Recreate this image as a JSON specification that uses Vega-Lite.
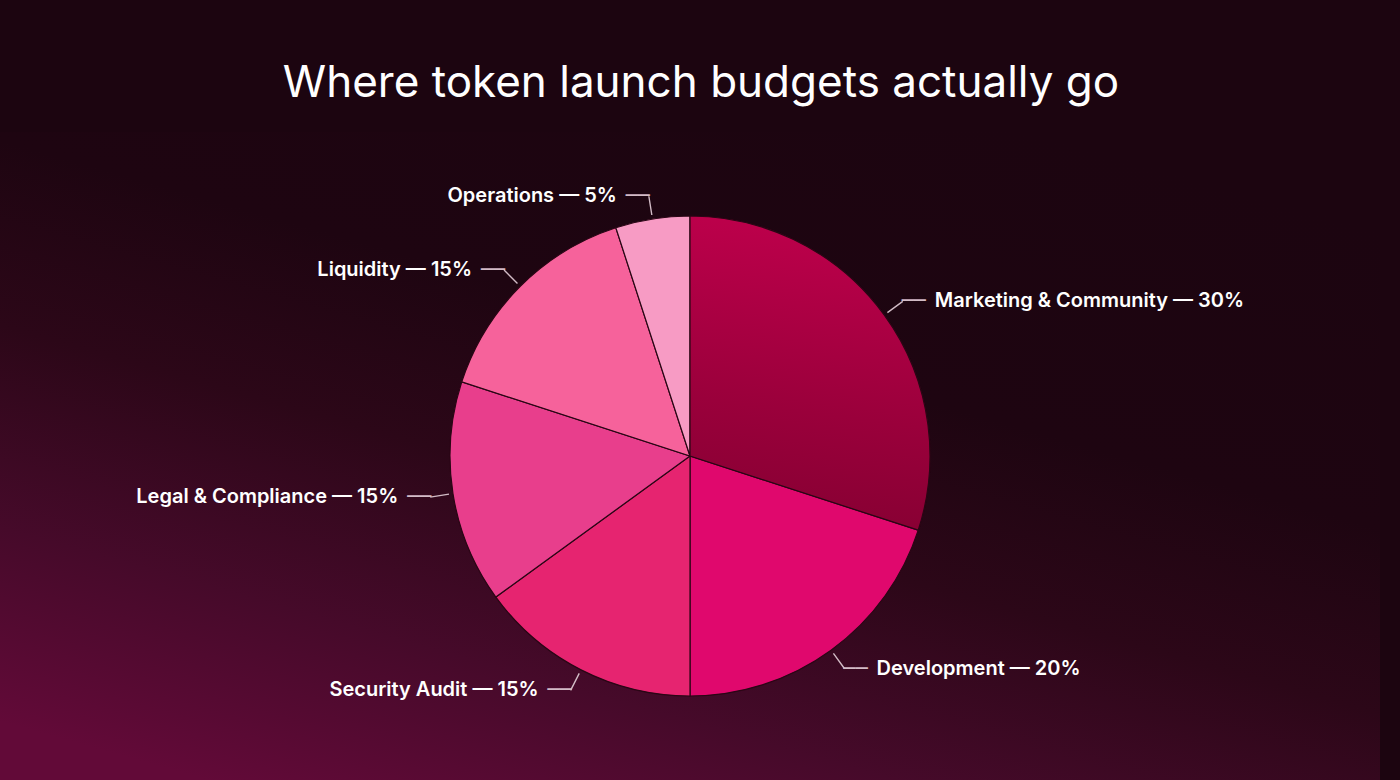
{
  "$schema": "https://vega.github.io/schema/vega-lite/v6.json",
  "autosize": {"type": "fit", "contains": "padding"},
  "width": 1400,
  "height": 780,
  "padding": {"left": 0, "right": 20, "top": 62, "bottom": 0},
  "background": "#1c0510",
  "view": {
    "stroke": null,
    "fill": {
      "gradient": "linear",
      "x1": 0.75, "y1": 0, "x2": 0.15, "y2": 1,
      "stops": [
        {"offset": 0, "color": "#1c0510"},
        {"offset": 0.34, "color": "#1e0511"},
        {"offset": 0.55, "color": "#2c0718"},
        {"offset": 0.78, "color": "#460a2a"},
        {"offset": 1, "color": "#620a38"}
      ]
    }
  },
  "title": {
    "text": "Where token launch budgets actually go",
    "font": "Inter",
    "fontSize": 44,
    "fontWeight": 400,
    "color": "#ffffff",
    "anchor": "middle",
    "dx": 11,
    "offset": 26
  },
  "data": {
    "values": [
      {"category": "Marketing & Community", "value": 30, "label": "Marketing & Community — 30%"},
      {"category": "Development", "value": 20, "label": "Development — 20%"},
      {"category": "Security Audit", "value": 15, "label": "Security Audit — 15%"},
      {"category": "Legal & Compliance", "value": 15, "label": "Legal & Compliance — 15%"},
      {"category": "Liquidity", "value": 15, "label": "Liquidity — 15%"},
      {"category": "Operations", "value": 5, "label": "Operations — 5%"}
    ]
  },
  "transform": [
    {"stack": "value", "groupby": [], "as": ["v0", "v1"]}
  ],
  "layer": [
    {
      "mark": {"type": "arc", "outerRadius": 240, "stroke": "#2a0615", "strokeWidth": 1.2},
      "encoding": {
        "theta": {"field": "v0", "type": "quantitative", "scale": {"domain": [0, 100]}},
        "theta2": {"field": "v1"},
        "color": {
          "field": "category",
          "type": "nominal",
          "legend": null,
          "scale": {
            "domain": ["Marketing & Community", "Development", "Security Audit", "Legal & Compliance", "Liquidity", "Operations"],
            "range": ["#a3003d", "#e0086d", "#e62470", "#e83e8c", "#f6629b", "#f79bc4"]
          }
        }
      }
    },
    {
      "transform": [{"filter": "datum.category === 'Marketing & Community'"}],
      "mark": {
        "type": "arc",
        "outerRadius": 240,
        "stroke": "#2a0615",
        "strokeWidth": 1.2,
        "fill": {
          "gradient": "linear",
          "x1": 0.3, "y1": 0, "x2": 0.2, "y2": 1,
          "stops": [
            {"offset": 0, "color": "#bd004b"},
            {"offset": 0.6, "color": "#9a003b"},
            {"offset": 1, "color": "#850032"}
          ]
        }
      },
      "encoding": {
        "theta": {"field": "v0", "type": "quantitative", "scale": {"domain": [0, 100]}},
        "theta2": {"field": "v1"}
      }
    },
    {
      "transform": [
        {"fold": ["v0", "v1"], "as": ["edge", "pos"]},
        {"aggregate": [{"op": "mean", "field": "pos", "as": "mid"}], "groupby": ["category", "label"]}
      ],
      "layer": [
        {
          "mark": {"type": "arc", "outerRadius": 263, "innerRadius": 244, "filled": false, "color": "#d2bcc6", "strokeWidth": 1.4},
          "encoding": {
            "theta": {"field": "mid", "type": "quantitative", "scale": {"domain": [0, 100]}},
            "theta2": {"field": "mid"}
          }
        },
        {
          "transform": [{"filter": "datum.mid < 50"}],
          "mark": {"type": "text", "radius": 263, "align": "left", "baseline": "middle", "font": "DejaVu Sans", "fontSize": 20, "color": "#d2bcc6", "dx": -1},
          "encoding": {
            "theta": {"field": "mid", "type": "quantitative", "scale": {"domain": [0, 100]}},
            "text": {"value": "──"}
          }
        },
        {
          "transform": [{"filter": "datum.mid >= 50"}],
          "mark": {"type": "text", "radius": 263, "align": "right", "baseline": "middle", "font": "DejaVu Sans", "fontSize": 20, "color": "#d2bcc6", "dx": 1},
          "encoding": {
            "theta": {"field": "mid", "type": "quantitative", "scale": {"domain": [0, 100]}},
            "text": {"value": "──"}
          }
        },
        {
          "transform": [{"filter": "datum.mid < 50"}],
          "mark": {"type": "text", "radius": 263, "align": "left", "baseline": "middle", "font": "Inter", "fontSize": 20, "fontWeight": 600, "color": "#ffffff", "dx": 32},
          "encoding": {
            "theta": {"field": "mid", "type": "quantitative", "scale": {"domain": [0, 100]}},
            "text": {"field": "label", "type": "nominal"}
          }
        },
        {
          "transform": [{"filter": "datum.mid >= 50"}],
          "mark": {"type": "text", "radius": 263, "align": "right", "baseline": "middle", "font": "Inter", "fontSize": 20, "fontWeight": 600, "color": "#ffffff", "dx": -32},
          "encoding": {
            "theta": {"field": "mid", "type": "quantitative", "scale": {"domain": [0, 100]}},
            "text": {"field": "label", "type": "nominal"}
          }
        }
      ]
    }
  ]
}
